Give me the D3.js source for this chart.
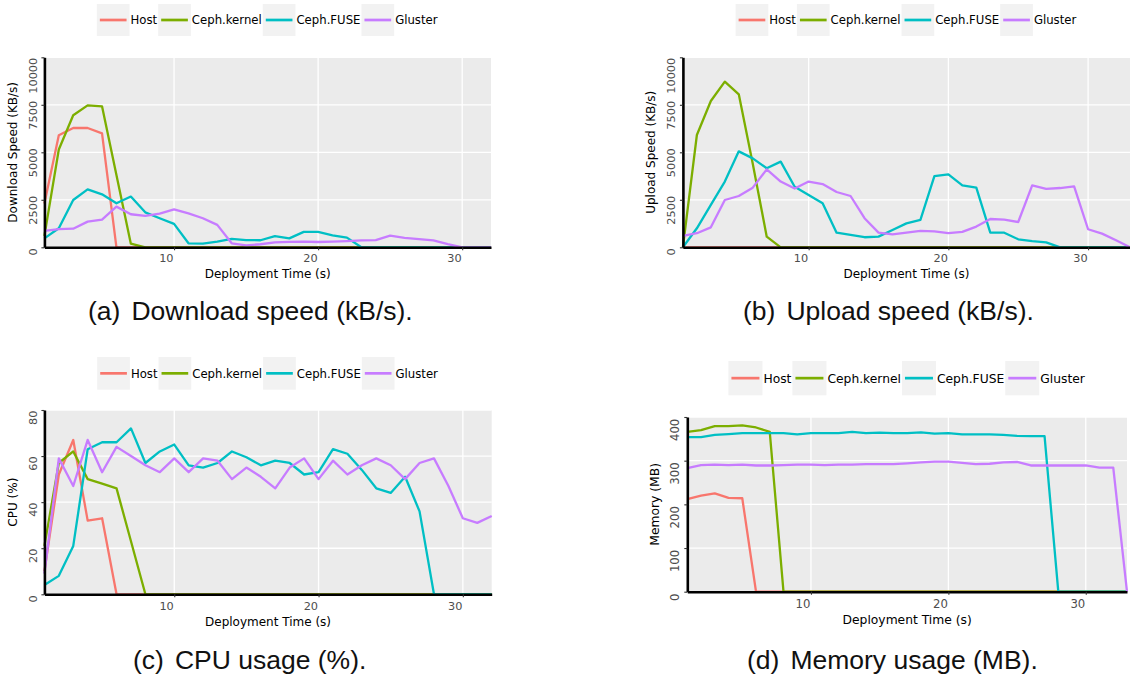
<!DOCTYPE html>
<html>
<head>
<meta charset="utf-8">
<script src="https://cdn.jsdelivr.net/npm/d3@7/dist/d3.min.js"></script>
<style>
  html, body { margin: 0; padding: 0; background: #ffffff; }
  svg { display: block; }
</style>
</head>
<body>
<svg id="chart" width="1130" height="677"></svg>
<script>
// ---------------- DATA ----------------
const seriesNames = ["Host", "Ceph.kernel", "Ceph.FUSE", "Gluster"];
const seriesColors = ["#F8766D", "#7CAE00", "#00BFC4", "#C77CFF"];

const time32 = [1,2,3,4,5,6,7,8,9,10,11,12,13,14,15,16,17,18,19,20,21,22,23,24,25,26,27,28,29,30,31,32];
const time33 = [1,2,3,4,5,6,7,8,9,10,11,12,13,14,15,16,17,18,19,20,21,22,23,24,25,26,27,28,29,30,31,32,33];

const xTicks = [10, 20, 30];
const speedTicks = [0, 2500, 5000, 7500, 10000];
const cpuTicks = [0, 20, 40, 60, 80];
const memTicks = [0, 100, 200, 300, 400];

// (a) Download speed (KB/s)
const dlHost    = [2300,5900,6280,6280,6000,0,0,0,0,0,0,0,0,0,0,0,0,0,0,0,0,0,0,0,0,0,0,0,0,0,0,0];
const dlKernel  = [600,5150,6950,7470,7420,3800,190,0,0,0,0,0,0,0,0,0,0,0,0,0,0,0,0,0,0,0,0,0,0,0,0,0];
const dlFuse    = [470,1000,2490,3050,2790,2320,2670,1840,1530,1230,210,190,300,440,380,370,590,470,810,810,630,510,0,0,0,0,0,0,0,0,0,0];
const dlGluster = [860,960,980,1350,1460,2140,1740,1650,1770,2000,1790,1530,1180,210,100,160,260,290,300,280,300,330,360,380,610,500,430,360,170,0,0,0];

// (b) Upload speed (KB/s)
const ulHost    = [0,0,0,0,0,0,0,0,0,0,0,0,0,0,0,0,0,0,0,0,0,0,0,0,0,0,0,0,0,0,0,0,0];
const ulKernel  = [0,5910,7700,8720,8050,4400,560,0,0,0,0,0,0,0,0,0,0,0,0,0,0,0,0,0,0,0,0,0,0,0,0,0,0];
const ulFuse    = [0,1000,2230,3460,5050,4680,4160,4510,3190,2750,2320,770,650,530,560,910,1260,1440,3750,3840,3260,3140,770,770,420,330,260,0,0,0,0,0,0];
const ulGluster = [600,740,1050,2490,2700,3140,4100,3460,3090,3460,3330,2910,2700,1530,770,680,770,860,840,750,810,1090,1490,1460,1330,3260,3070,3120,3210,950,720,370,0];

// (c) CPU (%)
const cpuHost    = [10,52,67,32,33,0,0,0,0,0,0,0,0,0,0,0,0,0,0,0,0,0,0,0,0,0,0,0,0,0,0,0];
const cpuKernel  = [21,57,62,50,48,46,23,0,0,0,0,0,0,0,0,0,0,0,0,0,0,0,0,0,0,0,0,0,0,0,0,0];
const cpuFuse    = [4,8,21,63,66,66,72,57,62,65,56,55,57,62,59.5,56,58,57,52,53,63,61,54,46,44,51,36,0,0,0,0,0];
const cpuGluster = [9,59,47,67,53,64,60,56,53,59,53,59,58,50,55,51,46,55,59,50,58,52,56,59,56,50,57,59,47,33,31,34];

// (d) Memory (MB)
const memHost    = [212,220,225,215,214,0,0,0,0,0,0,0,0,0,0,0,0,0,0,0,0,0,0,0,0,0,0,0,0,0,0,0,0];
const memKernel  = [366,370,379,379,381,376,366,0,0,0,0,0,0,0,0,0,0,0,0,0,0,0,0,0,0,0,0,0,0,0,0,0,0];
const memFuse    = [354,354,359,361,363,363,363,363,360,363,363,363,366,363,364,363,363,365,362,363,360,360,360,359,357,356,356,0,0,0,0,0,0];
const memGluster = [283,290,291,290,291,289,289,290,291,291,290,291,291,292,292,292,294,296,298,298,295,292,293,296,297,289,289,289,289,289,284,284,0];

const captions = [
  ["(a)", "Download speed (kB/s)."],
  ["(b)", "Upload speed (kB/s)."],
  ["(c)", "CPU usage (%)."],
  ["(d)", "Memory usage (MB)."]
];

// ---------------- DRAWING ----------------
const svg = d3.select("#chart");
svg.append("rect").attr("width", 1130).attr("height", 677).attr("fill", "#ffffff");

const FONT = "DejaVu Sans, Verdana, sans-serif";

function drawPanel(cfg) {
  const g = svg.append("g");
  const x = d3.scaleLinear().domain([cfg.time[0], cfg.time[cfg.time.length - 1]]).range([cfg.left, cfg.right]);
  const y = d3.scaleLinear().domain([cfg.yTicks[0], cfg.yTicks[cfg.yTicks.length - 1]]).range([cfg.bottom, cfg.top]);

  // panel background
  g.append("rect")
    .attr("x", cfg.left).attr("y", cfg.top)
    .attr("width", cfg.right - cfg.left).attr("height", cfg.bottom - cfg.top)
    .attr("fill", "#EBEBEB");

  // grid lines
  g.selectAll(".hgrid").data(cfg.yTicks).enter().append("line")
    .attr("x1", cfg.left).attr("x2", cfg.right)
    .attr("y1", d => y(d)).attr("y2", d => y(d))
    .attr("stroke", "#ffffff").attr("stroke-width", 1.3);
  g.selectAll(".vgrid").data(xTicks).enter().append("line")
    .attr("x1", d => x(d)).attr("x2", d => x(d))
    .attr("y1", cfg.top).attr("y2", cfg.bottom)
    .attr("stroke", "#ffffff").attr("stroke-width", 1.3);

  // series lines
  const line = d3.line().x((d, i) => x(cfg.time[i])).y(d => y(d));
  cfg.series.forEach((vals, si) => {
    g.append("path")
      .datum(vals)
      .attr("d", line)
      .attr("fill", "none")
      .attr("stroke", seriesColors[si])
      .attr("stroke-width", 2.3)
      .attr("stroke-linejoin", "round");
  });

  // bottom axis
  const xAxis = d3.axisBottom(x).tickValues(xTicks).tickSize(3).tickSizeOuter(0).tickFormat(d3.format("d"));
  const gx = g.append("g").attr("transform", `translate(0,${cfg.bottom})`).call(xAxis);
  gx.select(".domain").attr("stroke", "#000").attr("stroke-width", 2.6);
  gx.selectAll(".tick line").attr("stroke", "#333").attr("stroke-width", 1.1);
  gx.selectAll(".tick text")
    .attr("font-family", FONT).attr("font-size", cfg.tickFs)
    .attr("fill", "#4D4D4D")
    .attr("text-anchor", "end")
    .attr("x", -1)
    .attr("dy", null)
    .attr("y", cfg.xLabBase);

  // left axis
  const yAxis = d3.axisLeft(y).tickValues(cfg.yTicks).tickSize(3).tickSizeOuter(0).tickFormat(d3.format("d"));
  const gy = g.append("g").attr("transform", `translate(${cfg.left},0)`).call(yAxis);
  gy.select(".domain").attr("stroke", "#000").attr("stroke-width", 2.6);
  gy.selectAll(".tick line").attr("stroke", "#333").attr("stroke-width", 1.1);
  gy.selectAll(".tick text")
    .attr("font-family", FONT).attr("font-size", cfg.tickFs)
    .attr("fill", "#4D4D4D")
    .attr("text-anchor", "middle")
    .attr("x", null).attr("dy", null)
    .each(function(d) {
      const len = this.getComputedTextLength();
      const tickY = y(d);
      let center = tickY + (d === 0 ? cfg.zeroShift : cfg.yShift);
      if (center - len / 2 < cfg.top) center = cfg.top + len / 2;
      d3.select(this).attr("transform", `translate(${-cfg.yLabOff},${center - tickY}) rotate(-90)`);
    });

  // axis titles
  g.append("text")
    .attr("x", (cfg.left + cfg.right) / 2).attr("y", cfg.bottom + cfg.xTitleOff)
    .attr("text-anchor", "middle")
    .attr("font-family", FONT).attr("font-size", cfg.titleFs).attr("fill", "#000")
    .text("Deployment Time (s)");
  g.append("text")
    .attr("transform", `translate(${cfg.left - cfg.yTitleOff},${(cfg.top + cfg.bottom) / 2}) rotate(-90)`)
    .attr("text-anchor", "middle")
    .attr("font-family", FONT).attr("font-size", cfg.titleFs).attr("fill", "#000")
    .text(cfg.yTitle);

  // legend
  const lg = g.append("g");
  let cx = 0;
  seriesNames.forEach((name, i) => {
    lg.append("rect")
      .attr("x", cx).attr("y", cfg.legTop)
      .attr("width", cfg.keyW).attr("height", cfg.keyH)
      .attr("fill", "#F2F2F2");
    lg.append("line")
      .attr("x1", cx + 3).attr("x2", cx + cfg.keyW - 3)
      .attr("y1", cfg.legTop + cfg.keyH / 2).attr("y2", cfg.legTop + cfg.keyH / 2)
      .attr("stroke", seriesColors[i]).attr("stroke-width", 2.7);
    cx += cfg.keyW + 1;
    const t = lg.append("text")
      .attr("x", cx).attr("y", cfg.legTop + cfg.keyH / 2 + cfg.legFs * 0.36)
      .attr("font-family", FONT).attr("font-size", cfg.legFs).attr("fill", "#000")
      .text(name);
    cx += t.node().getComputedTextLength() + 1;
  });
  const legCenter = (cfg.left + cfg.right) / 2;
  lg.attr("transform", `translate(${legCenter - cx / 2},0)`);

  // caption
  const cap = svg.append("text")
    .attr("x", cfg.capX).attr("y", cfg.capY)
    .attr("font-family", "Liberation Sans, Arial, Helvetica, sans-serif")
    .attr("font-size", 26.5).attr("fill", "#111");
  cap.append("tspan").text(cfg.caption[0]);
  cap.append("tspan").attr("dx", 11).text(cfg.caption[1]);
}

drawPanel({
  time: time32, series: [dlHost, dlKernel, dlFuse, dlGluster], yTicks: speedTicks,
  left: 44.4, right: 491, top: 57.3, bottom: 247.3,
  yTitle: "Download Speed (KB/s)", tickFs: 11.3, titleFs: 12, legFs: 11.7,
  yShift: 10, zeroShift: 4, yLabOff: 7.8, xLabBase: 14.4, xTitleOff: 31, yTitleOff: 27.5,
  legTop: 4, keyW: 32.7, keyH: 32,
  caption: captions[0], capX: 88, capY: 320
});
drawPanel({
  time: time33, series: [ulHost, ulKernel, ulFuse, ulGluster], yTicks: speedTicks,
  left: 682.9, right: 1130, top: 57.3, bottom: 247.3,
  yTitle: "Upload Speed (KB/s)", tickFs: 11.3, titleFs: 12, legFs: 11.7,
  yShift: 10, zeroShift: 4, yLabOff: 7.8, xLabBase: 14.4, xTitleOff: 31, yTitleOff: 27.5,
  legTop: 4, keyW: 32.7, keyH: 32,
  caption: captions[1], capX: 743, capY: 320
});
drawPanel({
  time: time32, series: [cpuHost, cpuKernel, cpuFuse, cpuGluster], yTicks: cpuTicks,
  left: 44.4, right: 491.7, top: 410, bottom: 594.3,
  yTitle: "CPU (%)", tickFs: 11.3, titleFs: 12, legFs: 11.7,
  yShift: 7, zeroShift: 4, yLabOff: 7.8, xLabBase: 15.7, xTitleOff: 31.4, yTitleOff: 27.5,
  legTop: 357, keyW: 32.7, keyH: 32.7,
  caption: captions[2], capX: 133, capY: 669
});
drawPanel({
  time: time33, series: [memHost, memKernel, memFuse, memGluster], yTicks: memTicks,
  left: 687.3, right: 1127, top: 417, bottom: 591.7,
  yTitle: "Memory (MB)", tickFs: 11.7, titleFs: 12.3, legFs: 12.3,
  yShift: 12.4, zeroShift: 5, yLabOff: 8, xLabBase: 16, xTitleOff: 32.3, yTitleOff: 28.8,
  legTop: 361, keyW: 34, keyH: 34.3,
  caption: captions[3], capX: 747, capY: 669
});
</script>
</body>
</html>
